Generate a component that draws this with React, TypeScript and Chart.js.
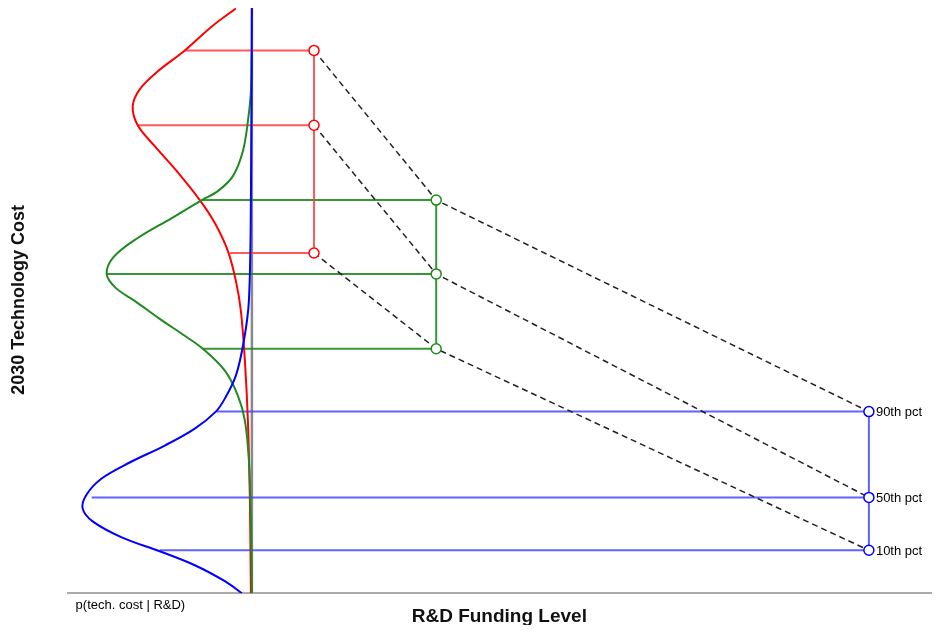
import { useEffect, useRef } from 'react';
import { Chart, registerables } from 'chart.js';

Chart.register(...registerables);

// values (x = funding / density position, y = cost position, top-down)
const quantileLabels = ['90th pct', '50th pct', '10th pct'];
const fundingLevels = [314, 436, 868];
const redQuantiles = [49, 124, 252];
const greenQuantiles = [199, 273, 348];
const blueQuantiles = [411, 497, 550];
const redDensityAtQ = [185, 138, 230];
const greenDensityAtQ = [202, 107, 203];
const blueDensityAtQ = [217, 92, 160];
const densityBase = 252;

const redCurve = [[236, 7], [212, 25], [185, 49], [158, 70], [140, 88], [133, 105], [138, 124], [155, 145], [177, 170], [200, 199], [215, 222], [228, 250], [236, 280], [241, 310], [245, 360], [248, 420], [250, 500], [251, 593]];
const greenCurve = [[252, 50], [251, 90], [248, 120], [243, 150], [233, 175], [218, 190], [202, 199], [172, 217], [138, 237], [114, 256], [107, 273], [116, 287], [135, 300], [160, 318], [185, 335], [203, 348], [225, 370], [238, 395], [245, 420], [249, 460], [251, 520], [252, 593]];
const blueCurve = [[252, 5], [251, 200], [249, 300], [244, 340], [236, 375], [225, 398], [216, 411], [195, 428], [165, 445], [130, 462], [102, 478], [87, 494], [83, 508], [93, 521], [122, 537], [160, 551], [195, 565], [225, 581], [242, 593]];

const groups = [
  { color: '#ff0000', light: 'rgba(255,60,60,0.85)', q: redQuantiles, d: redDensityAtQ, curve: redCurve, fx: fundingLevels[0] },
  { color: '#1f8a1f', light: 'rgba(34,139,34,0.9)', q: greenQuantiles, d: greenDensityAtQ, curve: greenCurve, fx: fundingLevels[1] },
  { color: '#0000ff', light: 'rgba(70,70,255,0.85)', q: blueQuantiles, d: blueDensityAtQ, curve: blueCurve, fx: fundingLevels[2] },
];

const labelsPlugin = {
  id: 'labels',
  afterDatasetsDraw(chart: any) {
    const { ctx, scales } = chart;
    ctx.save();
    ctx.fillStyle = '#000';
    ctx.font = '13px Arial, "Liberation Sans", sans-serif';
    ctx.textBaseline = 'middle';
    quantileLabels.forEach((t, i) => {
      ctx.fillText(t, scales.x.getPixelForValue(fundingLevels[2]) + 7, scales.y.getPixelForValue(blueQuantiles[i]) + 1);
    });
    ctx.textBaseline = 'top';
    ctx.fillText('p(tech. cost | R&D)', scales.x.getPixelForValue(76), scales.y.getPixelForValue(593) + 6);
    ctx.restore();
  },
};

export default function App() {
  const canvasRef = useRef<HTMLCanvasElement>(null);

  useEffect(() => {
    if (!canvasRef.current) return;
    const datasets: any[] = [];
    // first pushed = drawn on top
    groups.forEach((g) => {
      datasets.push({ data: g.q.map((y) => ({ x: g.fx, y })), borderColor: g.color, backgroundColor: '#fff', borderWidth: 1.5, pointRadius: 5, showLine: false });
    });
    quantileLabels.forEach((_, i) => {
      datasets.push({ data: groups.map((g) => ({ x: g.fx, y: g.q[i] })), borderColor: '#222', borderWidth: 1.5, borderDash: [6, 4], pointRadius: 0, showLine: true });
    });
    groups.slice().reverse().forEach((g) => {
      datasets.push({ data: g.curve.map(([x, y]) => ({ x, y })), borderColor: g.color, borderWidth: 2, pointRadius: 0, showLine: true, tension: 0.35 });
    });
    groups.forEach((g) => {
      g.q.forEach((y, i) => {
        datasets.push({ data: [{ x: g.d[i], y }, { x: g.fx, y }], borderColor: g.light, borderWidth: 2, pointRadius: 0, showLine: true });
      });
      datasets.push({ data: [{ x: g.fx, y: g.q[0] }, { x: g.fx, y: g.q[2] }], borderColor: g.light, borderWidth: 2, pointRadius: 0, showLine: true });
    });
    // gray baseline of densities
    datasets.push({ data: [{ x: densityBase, y: 5 }, { x: densityBase, y: 593 }], borderColor: '#888', borderWidth: 2.5, pointRadius: 0, showLine: true });

    const chart = new Chart(canvasRef.current, {
      type: 'scatter',
      data: { datasets },
      options: {
        animation: false,
        responsive: true,
        maintainAspectRatio: false,
        layout: { padding: { left: 0, right: 16, top: 5, bottom: 5 } },
        plugins: { legend: { display: false }, tooltip: { enabled: false } },
        scales: {
          x: {
            type: 'linear', min: 68, max: 930,
            grid: { display: false, drawTicks: false },
            border: { color: '#aaa', width: 2 },
            ticks: { display: false },
            title: { display: true, text: 'R&D Funding Level', font: { size: 19, weight: 'bold', family: 'Arial, "Liberation Sans", sans-serif' }, color: '#111', padding: { top: 12, bottom: 0 } },
          },
          y: {
            type: 'linear', reverse: true, min: 5, max: 593,
            grid: { display: false, drawTicks: false },
            border: { display: false },
            ticks: { display: false },
            title: { display: true, text: '2030 Technology Cost', font: { size: 18, weight: 'bold', family: 'Arial, "Liberation Sans", sans-serif' }, color: '#111', padding: { top: 8, bottom: 38 } },
          },
        },
      },
      plugins: [labelsPlugin],
    });
    return () => chart.destroy();
  }, []);

  return (
    <div style={{ width: 947, height: 633, margin: -8, background: '#fff' }}>
      <canvas ref={canvasRef}></canvas>
    </div>
  );
}
